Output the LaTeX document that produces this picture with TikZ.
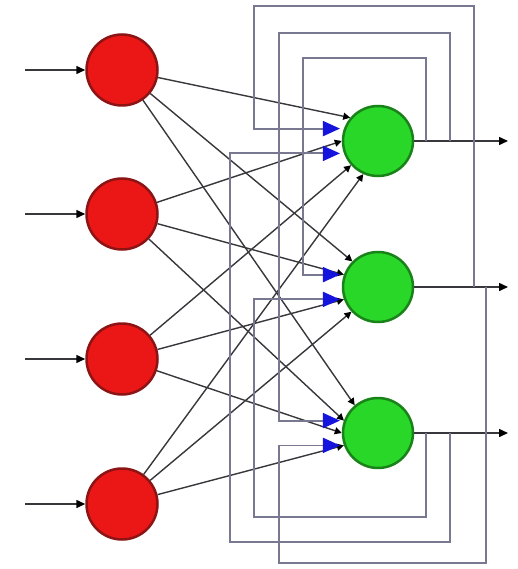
\documentclass[tikz,border=0pt]{standalone}
\usetikzlibrary{arrows.meta}
\definecolor{redfill}{RGB}{235,22,22}
\definecolor{redline}{RGB}{140,20,20}
\definecolor{greenfill}{RGB}{40,215,40}
\definecolor{greenline}{RGB}{25,130,25}
\definecolor{fbgray}{RGB}{120,120,145}
\definecolor{fbblue}{RGB}{20,20,220}
\definecolor{syngray}{RGB}{55,55,60}
\begin{document}
\begin{tikzpicture}[x=1pt,y=-1pt,
  redn/.style={circle,fill=redfill,draw=redline,line width=2.5pt,minimum size=71pt,inner sep=0pt},
  greenn/.style={circle,fill=greenfill,draw=greenline,line width=2.5pt,minimum size=70pt,inner sep=0pt},
  syn/.style={draw=syngray,line width=1.4pt,-{Triangle[length=7pt,width=7pt,color=black]}},
  fb/.style={draw=fbgray,line width=1.8pt,-{Triangle[length=17pt,width=15pt,color=fbblue]},shorten >=4pt},
  io/.style={draw=syngray,line width=1.5pt,-{Triangle[length=9pt,width=8pt,color=black]}},
]
\useasboundingbox (0,0) rectangle (518,569);
% neurons
\node[redn] (r1) at (122,70) {};
\node[redn] (r2) at (122,214) {};
\node[redn] (r3) at (122,359) {};
\node[redn] (r4) at (122,504) {};
\node[greenn] (g1) at (378,141) {};
\node[greenn] (g2) at (378,287) {};
\node[greenn] (g3) at (378,433) {};
% inputs / outputs
\coordinate (i1) at (25,70);
\coordinate (i2) at (25,214);
\coordinate (i3) at (25,359);
\coordinate (i4) at (25,504);
\coordinate (o1) at (508,141);
\coordinate (o2) at (508,287);
\coordinate (o3) at (508,433);
\foreach \k in {1,2,3,4} {\draw[io] (i\k) -- (r\k);}
\foreach \k in {1,2,3} {\draw[io] (g\k) -- (o\k);}
% synapses red -> green
\draw[syn] (r1) -- (g1.140);
\draw[syn] (r2) -- (g1.180);
\draw[syn] (r3) -- (g1.222);
\draw[syn] (r4) -- (g1.246);
\draw[syn] (r1) -- (g2.135);
\draw[syn] (r2) -- (g2.160);
\draw[syn] (r3) -- (g2.200);
\draw[syn] (r4) -- (g2.223);
\draw[syn] (r1) -- (g3.130);
\draw[syn] (r2) -- (g3.160);
\draw[syn] (r3) -- (g3.180);
\draw[syn] (r4) -- (g3.200);
% feedback junctions on output lines
\coordinate (j11) at (426,141);
\coordinate (j12) at (450,141);
\coordinate (j21) at (474,287);
\coordinate (j22) at (486,287);
\coordinate (j31) at (426,433);
\coordinate (j32) at (450,433);
% feedback loops
\draw[fb] (j11) -- (426,58) -- (303,58) |- (g2.160);
\draw[fb] (j12) -- (450,33) -- (279,33) |- (g3.160);
\draw[fb] (j21) -- (474,6) -- (254,6) |- (g1.160);
\draw[fb] (j22) -- (486,563) -- (279,563) |- (g3.200);
\draw[fb] (j31) -- (426,517) -- (254,517) |- (g2.200);
\draw[fb] (j32) -- (450,542) -- (230,542) |- (g1.200);
\end{tikzpicture}
\end{document}
